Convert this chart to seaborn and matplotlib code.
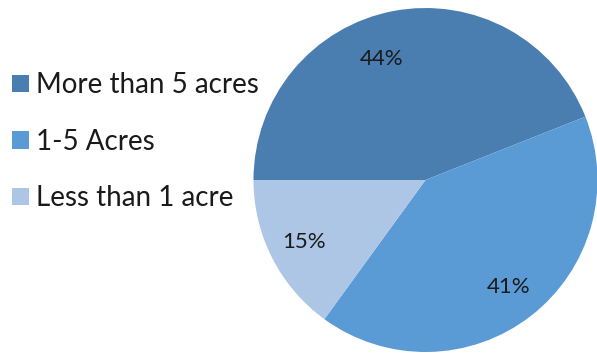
import matplotlib
matplotlib.use("Agg")
import matplotlib.pyplot as plt
import seaborn as sns
import numpy as np
from matplotlib.patches import Patch

categories = ["More than 5 acres", "1-5 Acres", "Less than 1 acre"]
shares = [44, 41, 15]
colors = ["#4a7eb0", "#5b9bd5", "#aec6e6"]

sns.set_theme(style="white")
plt.rcParams["font.family"] = ["Lato", "DejaVu Sans"]

fig = plt.figure(figsize=(5.97, 3.6), dpi=100)
ax = fig.add_axes([0.4246, 0.0222, 0.5762, 0.9556])
wedges, texts, autotexts = ax.pie(
    shares, colors=colors, startangle=180, counterclock=False,
    autopct="%d%%", pctdistance=0.79,
    wedgeprops=dict(linewidth=0),
    textprops=dict(fontsize=16, color="#1a1a1a"),
)
ax.set_xlim(-1, 1)
ax.set_ylim(-1, 1)
ax.set_aspect("equal")

# Excel-like best-fit placement nudges the first label toward the top
x0, y0 = autotexts[0].get_position()
ang = np.arctan2(y0, x0) + np.deg2rad(9)
r0 = 0.75
autotexts[0].set_position((r0 * np.cos(ang), r0 * np.sin(ang)))

handles = [Patch(facecolor=c, edgecolor="none") for c in colors]
fig.legend(handles, categories, loc="center left", bbox_to_anchor=(0.02, 0.606),
           frameon=False, fontsize=20, handlelength=0.6, handleheight=0.6,
           handletextpad=0.28, labelspacing=1.1, labelcolor="#1a1a1a",
           borderaxespad=0, borderpad=0)

fig.savefig("out.png", dpi=100)
